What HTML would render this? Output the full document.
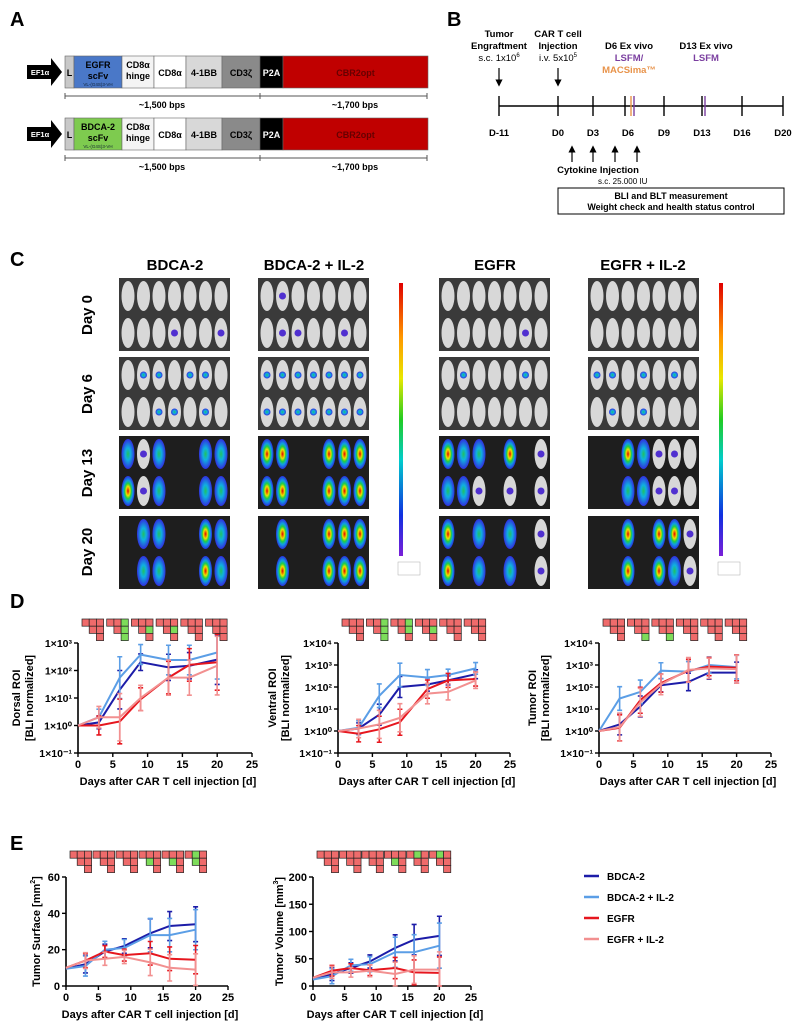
<!DOCTYPE html>
<html><head><meta charset="utf-8"><title>CAR T cell figure</title>
<style>
html,body{margin:0;padding:0;background:#fff;}
svg{display:block;font-family:"Liberation Sans",Arial,sans-serif;}
.b{font-weight:bold;}
</style></head>
<body>
<svg id="fig" width="799" height="1027" viewBox="0 0 799 1027" xmlns="http://www.w3.org/2000/svg">
<defs>
<linearGradient id="cbar" x1="0" y1="0" x2="0" y2="1">
<stop offset="0" stop-color="#e00000"/><stop offset="0.2" stop-color="#ff9900"/><stop offset="0.35" stop-color="#e8e800"/><stop offset="0.5" stop-color="#22cc22"/><stop offset="0.65" stop-color="#00cccc"/><stop offset="0.85" stop-color="#1030e0"/><stop offset="1" stop-color="#7a1fd8"/>
</linearGradient>
<radialGradient id="hot" cx="0.5" cy="0.5" r="0.5"><stop offset="0" stop-color="#e00000"/><stop offset="0.3" stop-color="#f0e000"/><stop offset="0.5" stop-color="#20d040"/><stop offset="0.7" stop-color="#10a0e0"/><stop offset="1" stop-color="#2a30e0"/></radialGradient>
<radialGradient id="warm" cx="0.5" cy="0.5" r="0.5"><stop offset="0" stop-color="#20c060"/><stop offset="0.4" stop-color="#10b0e0"/><stop offset="1" stop-color="#3030e0"/></radialGradient>
<radialGradient id="cold" cx="0.5" cy="0.5" r="0.5"><stop offset="0" stop-color="#4a3ae8"/><stop offset="1" stop-color="#8a40e0"/></radialGradient>
<marker id="arr" markerWidth="6" markerHeight="6" refX="3" refY="3" orient="auto"><path d="M0,0 L6,3 L0,6 z" fill="#000"/></marker>
</defs>

<!-- PANEL A -->
<g>
<text x="10" y="26" font-size="20" class="b">A</text>
<g id="constructs"></g>
</g>

<!-- PANEL B -->
<g>
<text x="447" y="26" font-size="20" class="b">B</text>
<g font-size="9.5" text-anchor="middle">
<text x="499" y="37" class="b">Tumor</text>
<text x="499" y="49" class="b">Engraftment</text>
<text x="499" y="61">s.c. 1x10<tspan font-size="6" dy="-4">6</tspan></text>
<text x="558" y="37" class="b">CAR T cell</text>
<text x="558" y="49" class="b">Injection</text>
<text x="558" y="61">i.v. 5x10<tspan font-size="6" dy="-4">5</tspan></text>
<text x="629" y="49" class="b">D6 Ex vivo</text>
<text x="629" y="61" class="b" fill="#7b3fa0">LSFM/</text>
<text x="629" y="73" class="b" fill="#e8934a">MACSima™</text>
<text x="706" y="49" class="b">D13 Ex vivo</text>
<text x="706" y="61" class="b" fill="#7b3fa0">LSFM</text>
</g>
<g stroke="#000" stroke-width="1.2">
<line x1="499" y1="68" x2="499" y2="83" marker-end="url(#arr)"/>
<line x1="558" y1="68" x2="558" y2="83" marker-end="url(#arr)"/>
<line x1="499" y1="106" x2="783" y2="106" stroke-width="1.5"/>
</g>
<g id="timeline"></g>
<text x="598" y="173" font-size="9.5" class="b" text-anchor="middle">Cytokine Injection</text>
<text x="598" y="184" font-size="8">s.c. 25.000 IU</text>
<rect x="558" y="188" width="226" height="26" fill="#fff" stroke="#000" stroke-width="1"/>
<text x="671" y="199" font-size="9" class="b" text-anchor="middle">BLI and BLT measurement</text>
<text x="671" y="210" font-size="9" class="b" text-anchor="middle">Weight check and health status control</text>
</g>

<!-- PANEL C -->
<g>
<text x="10" y="266" font-size="20" class="b">C</text>
<g font-size="15" class="b" text-anchor="middle">
<text x="175" y="270">BDCA-2</text>
<text x="314" y="270">BDCA-2 + IL-2</text>
<text x="495" y="270">EGFR</text>
<text x="643" y="270">EGFR + IL-2</text>
</g>
<g font-size="15" class="b" text-anchor="middle">
<text transform="translate(92,315) rotate(-90)">Day 0</text>
<text transform="translate(92,394) rotate(-90)">Day 6</text>
<text transform="translate(92,473) rotate(-90)">Day 13</text>
<text transform="translate(92,552) rotate(-90)">Day 20</text>
</g>
<g id="mice"></g>
<rect x="399" y="283" width="4" height="273" fill="url(#cbar)"/>
<rect x="719" y="283" width="4" height="273" fill="url(#cbar)"/>
<rect x="398" y="562" width="22" height="13" fill="#fff" stroke="#aaa" stroke-width="0.5"/>
<rect x="718" y="562" width="22" height="13" fill="#fff" stroke="#aaa" stroke-width="0.5"/>
</g>

<!-- PANEL D / E -->
<text x="10" y="608" font-size="20" class="b">D</text>
<text x="10" y="850" font-size="20" class="b">E</text>
<g id="charts"></g>

<g id="legend"></g>
</svg>

<script>
// ===== Chart data =====
const days = [0, 3, 6, 9, 13, 16, 20];
const seriesNames = ["BDCA-2", "BDCA-2 + IL-2", "EGFR", "EGFR + IL-2"];
const seriesColors = ["#1c1ca8", "#5b9ee6", "#e6161e", "#f29090"];

const dorsalBDCA2 = [1, 1.3, 20, 200, 130, 150, 250];
const dorsalBDCA2IL2 = [1, 2, 55, 380, 240, 240, 450];
const dorsalEGFR = [1, 1, 1.4, 9, 55, 160, 200];
const dorsalEGFRIL2 = [1, 2, 2, 10, 55, 55, 150];
const dorsalErr = [1, 1.7, 5, 2, 3, 3, 8];

const ventralBDCA2 = [1, 1.3, 5.5, 100, 130, 200, 380];
const ventralBDCA2IL2 = [1, 1.4, 40, 350, 270, 350, 700];
const ventralEGFR = [1, 0.75, 1.2, 2.5, 80, 200, 230];
const ventralEGFRIL2 = [1, 1.3, 2, 4, 50, 60, 200];
const ventralErr = [1, 1.8, 3, 3, 2, 1.6, 1.6];

const tumorBDCA2 = [1, 2, 13, 120, 170, 450, 450];
const tumorBDCA2IL2 = [1, 30, 60, 550, 500, 1000, 800];
const tumorEGFR = [1, 1.4, 25, 150, 550, 850, 750];
const tumorEGFRIL2 = [1, 1.5, 20, 130, 600, 700, 650];
const tumorErr = [1, 3, 3, 2, 2.5, 2, 3];

const surfBDCA2 = [9.5, 12, 19, 22, 29, 33, 34];
const surfBDCA2IL2 = [9.5, 11, 20, 21, 28, 28, 31];
const surfEGFR = [10, 14, 19, 17, 18, 15, 14.5];
const surfEGFRIL2 = [10, 14, 15, 16, 13, 10, 9];
const surfErr = [4, 6, 5, 5, 10, 10, 12];

const volBDCA2 = [13, 22, 33, 45, 70, 85, 92];
const volBDCA2IL2 = [12, 18, 38, 40, 62, 62, 74];
const volEGFR = [15, 28, 33, 29, 33, 25, 24];
const volEGFRIL2 = [15, 25, 25, 28, 22, 30, 30];
const volErr = [8, 15, 12, 15, 30, 35, 45];

const logTicks = ["1×10⁻¹", "1×10⁰", "1×10¹", "1×10²", "1×10³", "1×10⁴"];
const xTicks = [0, 5, 10, 15, 20, 25];
const surfTicks = [0, 20, 40, 60];
const volTicks = [0, 50, 100, 150, 200];

const dorsalGreen = [[], [2, 4, 5], [4], [4], [], []];
const ventralGreen = [[], [2, 4, 5], [2, 4], [4], [], []];
const tumorGreen = [[], [5], [5], [], [], []];
const surfGreen = [[], [], [], [3], [3], [1, 3]];
const volGreen = [[], [], [], [3], [1], [1]];

const NS = "http://www.w3.org/2000/svg";
function mk(tag, attrs, parent) {
  const e = document.createElementNS(NS, tag);
  for (const k in attrs) e.setAttribute(k, attrs[k]);
  parent.appendChild(e);
  return e;
}
function txt(s, attrs, parent) { const t = mk("text", attrs, parent); t.textContent = s; return t; }

const chartsG = document.getElementById("charts");

function drawChart(cfg) {
  const g = mk("g", {}, chartsG);
  
  
  const {x0, x1, yTop, yBot, log} = cfg;
  const xs = d => x0 + (x1 - x0) * d / 25;
  let ys;
  if (log) {
    const lmin = -1, lmax = cfg.logMax;
    ys = v => yBot - (yBot - yTop) * (Math.log10(Math.max(v, 0.05)) - lmin) / (lmax - lmin);
  } else {
    ys = v => yBot - (yBot - yTop) * v / cfg.yMax;
  }
  const ax = mk("path", {d: `M${x0},${yTop} L${x0},${yBot} L${x1},${yBot}`, fill: "none", stroke: "#000", "stroke-width": 1.6}, g);
  
  
  xTicks.forEach(t => {
    mk("line", {x1: xs(t), x2: xs(t), y1: yBot, y2: yBot + 4, stroke: "#000", "stroke-width": 1.4}, g);
    const l = txt(String(t), {x: xs(t), y: yBot + 15, "font-size": 11, "font-weight": "bold", "text-anchor": "middle"}, g);
    
    
  });
  if (log) {
    for (let i = 0; i <= cfg.logMax + 1; i++) {
      const v = Math.pow(10, i - 1), y = ys(v);
      mk("line", {x1: x0 - 4, x2: x0, y1: y, y2: y, stroke: "#000", "stroke-width": 1.4}, g);
      const l = txt(logTicks[i], {x: x0 - 6, y: y + 4, "font-size": 10.5, "font-weight": "bold", "text-anchor": "end"}, g);
      
      
    }
  } else {
    cfg.ticks.forEach(t => {
      const y = ys(t);
      mk("line", {x1: x0 - 4, x2: x0, y1: y, y2: y, stroke: "#000", "stroke-width": 1.4}, g);
      const l = txt(String(t), {x: x0 - 6, y: y + 4, "font-size": 11, "font-weight": "bold", "text-anchor": "end"}, g);
      
      
    });
  }
  const xt = txt("Days after CAR T cell injection [d]", {x: (x0 + x1) / 2 + 3, y: yBot + 32, "font-size": 11, "font-weight": "bold", "text-anchor": "middle"}, g);
  
  
  const yt = mk("text", {transform: `translate(${cfg.ytX},${(yTop + yBot) / 2}) rotate(-90)`, "font-size": 11, "font-weight": "bold", "text-anchor": "middle"}, g);
  
  
  cfg.yTitle.forEach((line, i) => {
    const ts = mk("tspan", {x: 0, dy: i === 0 ? (cfg.yTitle.length > 1 ? -2 : 4) : 13}, yt);
    ts.innerHTML = line;
  });
  cfg.series.forEach((vals, si) => {
    const sg = mk("g", {}, g);
    
    
    const col = seriesColors[si];
    vals.forEach((v, i) => {
      const e = cfg.err[i] * (1 + si * 0.15);
      let lo, hi;
      if (log) { lo = v / e; hi = v * e; } else { lo = Math.max(0, v - e * (si < 2 ? 0.8 : 0.5)); hi = v + e * (si < 2 ? 0.8 : 0.5); }
      if (i === 0) return;
      const x = xs(days[i]);
      const eb = mk("path", {d: `M${x},${ys(lo)} L${x},${ys(hi)} M${x - 2.5},${ys(hi)} L${x + 2.5},${ys(hi)} M${x - 2.5},${ys(lo)} L${x + 2.5},${ys(lo)}`, stroke: col, "stroke-width": 1.6, fill: "none"}, sg);
      
      
    });
    const pts = vals.map((v, i) => `${xs(days[i]).toFixed(1)},${ys(v).toFixed(1)}`).join(" ");
    const pl = mk("polyline", {points: pts, fill: "none", stroke: col, "stroke-width": 2}, sg);
    
    
  });
  const cs = 7.2, sp = (x1 - x0) * 0.142, gy = yTop - cfg.glyphOff;
  cfg.green.forEach((gr, k) => {
    const gx = x0 + 4 + k * sp;
    const hg = mk("g", {}, g);
    
    
    const cells = [[0, 0], [0, 1], [0, 2], [1, 1], [1, 2], [2, 2]];
    cells.forEach((rc, ci) => {
      mk("rect", {x: gx + rc[1] * cs, y: gy + rc[0] * cs, width: cs, height: cs, fill: gr.includes(ci) ? "#7ddc5a" : "#ef6b6b", stroke: "#222", "stroke-width": 0.7}, hg);
    });
  });
}

drawChart({name: "dorsal-roi-chart", x0: 78, x1: 252, yTop: 643, yBot: 753, log: true, logMax: 3,
  series: [dorsalBDCA2, dorsalBDCA2IL2, dorsalEGFR, dorsalEGFRIL2], err: dorsalErr, ytX: 22,
  yTitle: ["Dorsal ROI", "[BLI normalized]"], green: dorsalGreen, glyphOff: 24});
drawChart({name: "ventral-roi-chart", x0: 338, x1: 510, yTop: 643, yBot: 753, log: true, logMax: 4,
  series: [ventralBDCA2, ventralBDCA2IL2, ventralEGFR, ventralEGFRIL2], err: ventralErr, ytX: 278,
  yTitle: ["Ventral ROI", "[BLI normalized]"], green: ventralGreen, glyphOff: 24});
drawChart({name: "tumor-roi-chart", x0: 599, x1: 771, yTop: 643, yBot: 753, log: true, logMax: 4,
  series: [tumorBDCA2, tumorBDCA2IL2, tumorEGFR, tumorEGFRIL2], err: tumorErr, ytX: 538,
  yTitle: ["Tumor ROI", "[BLI normalized]"], green: tumorGreen, glyphOff: 24});
drawChart({name: "tumor-surface-chart", x0: 66, x1: 228, yTop: 877, yBot: 986, log: false, yMax: 60, ticks: surfTicks,
  series: [surfBDCA2, surfBDCA2IL2, surfEGFR, surfEGFRIL2], err: surfErr, ytX: 36,
  yTitle: ["Tumor Surface [mm<tspan font-size='7' dy='-5'>2</tspan><tspan dy='5'>]</tspan>"], green: surfGreen, glyphOff: 26});
drawChart({name: "tumor-volume-chart", x0: 313, x1: 471, yTop: 877, yBot: 986, log: false, yMax: 200, ticks: volTicks,
  series: [volBDCA2, volBDCA2IL2, volEGFR, volEGFRIL2], err: volErr, ytX: 279,
  yTitle: ["Tumor Volume [mm<tspan font-size='7' dy='-5'>3</tspan><tspan dy='5'>]</tspan>"], green: volGreen, glyphOff: 26});

const lg = document.getElementById("legend");
seriesNames.forEach((n, i) => {
  const y = 876 + i * 21;
  const e = mk("g", {}, lg);
  
  
  mk("line", {x1: 584, x2: 599, y1: y, y2: y, stroke: seriesColors[i], "stroke-width": 2.5}, e);
  txt(n, {x: 607, y: y + 4, "font-size": 10, "font-weight": "bold"}, e);
});

const cg = document.getElementById("constructs");
function construct(y, scfv, col) {
  const g = mk("g", {}, cg);
  
  
  mk("path", {d: `M27,${y + 9} L51,${y + 9} L51,${y + 2} L62,${y + 16} L51,${y + 30} L51,${y + 23} L27,${y + 23} z`, fill: "#000"}, g);
  txt("EF1α", {x: 40, y: y + 19, "font-size": 7.5, fill: "#fff", "font-weight": "bold", "text-anchor": "middle"}, g);
  const segs = [[65, 74, "#c8c8c8", ["L"], "#000"], [74, 122, col, [scfv, "scFv"], "#000"], [122, 154, "#f4f4f4", ["CD8α", "hinge"], "#000"],
    [154, 186, "#fff", ["CD8α"], "#000"], [186, 222, "#d8d8d8", ["4-1BB"], "#000"], [222, 260, "#8a8a8a", ["CD3ζ"], "#000"],
    [260, 283, "#000", ["P2A"], "#fff"], [283, 428, "#c00000", ["CBR2opt"], "#600"]];
  segs.forEach(s => {
    mk("rect", {x: s[0], y: y, width: s[1] - s[0], height: 32, fill: s[2], stroke: "#666", "stroke-width": 0.6}, g);
    const cx = (s[0] + s[1]) / 2;
    if (s[3].length === 1) txt(s[3][0], {x: cx, y: y + 20, "font-size": 9, "font-weight": "bold", fill: s[4], "text-anchor": "middle"}, g);
    else {
      txt(s[3][0], {x: cx, y: y + 12, "font-size": 9, "font-weight": "bold", fill: s[4], "text-anchor": "middle"}, g);
      txt(s[3][1], {x: cx, y: y + 23, "font-size": 9, "font-weight": "bold", fill: s[4], "text-anchor": "middle"}, g);
    }
  });
  txt("VL-(G4S)3-VH", {x: 98, y: y + 30, "font-size": 4.5, fill: "#123", "text-anchor": "middle"}, g);
  const sy = y + 40;
  mk("path", {d: `M65,${sy} L427,${sy} M65,${sy - 3} L65,${sy + 3} M260,${sy - 3} L260,${sy + 3} M427,${sy - 3} L427,${sy + 3}`, stroke: "#555", "stroke-width": 1}, g);
  txt("~1,500 bps", {x: 162, y: sy + 12, "font-size": 9, "font-weight": "bold", "text-anchor": "middle"}, g);
  txt("~1,700 bps", {x: 355, y: sy + 12, "font-size": 9, "font-weight": "bold", "text-anchor": "middle"}, g);
}
construct(56, "EGFR", "#4a78c8");
construct(118, "BDCA-2", "#7ecb4f");

const tl = document.getElementById("timeline");
const tlDays = ["D-11", "D0", "D3", "D6", "D9", "D13", "D16", "D20"];
const tlX = [499, 558, 593, 628, 664, 702, 742, 783];
tlDays.forEach((d, i) => {
  const t = mk("line", {x1: tlX[i] - (i === 3 ? 3 : 0), x2: tlX[i] - (i === 3 ? 3 : 0), y1: 96, y2: 116, stroke: "#000", "stroke-width": 1.4}, tl);
  
  
  txt(d, {x: tlX[i], y: 136, "font-size": 9.5, "font-weight": "bold", "text-anchor": "middle"}, tl);
});
mk("line", {x1: 631, x2: 631, y1: 96, y2: 116, stroke: "#e8934a", "stroke-width": 1.4}, tl);
mk("line", {x1: 634, x2: 634, y1: 96, y2: 116, stroke: "#7b3fa0", "stroke-width": 1.4}, tl);
mk("line", {x1: 705, x2: 705, y1: 96, y2: 116, stroke: "#7b3fa0", "stroke-width": 1.4}, tl);
[572, 593, 615, 637].forEach(x => mk("line", {x1: x, x2: x, y1: 162, y2: 149, stroke: "#000", "stroke-width": 1.2, "marker-end": "url(#arr)"}, tl));

const mg = document.getElementById("mice");
const blocksX = [119, 258, 439, 588];
const rowsY = [278, 357, 436, 516];
const pattern = [
  [["wwwwwww", "wwwpwwp"], ["wppwppw", "wwppwpw"], ["bpb--bb", "hpb--bb"], ["-bb--hb", "-bb--hb"]],
  [["wpwwwww", "wppwwpw"], ["ppppppp", "ppppppp"], ["hh--hhh", "hh--hhh"], ["-h--hhh", "-h--hhh"]],
  [["wwwwwww", "wwwwwpw"], ["wpwwwpw", "wwwwwww"], ["hbb-h-p", "bbp-p-p"], ["h-b-b-p", "h-b-b-p"]],
  [["wwwwwww", "wwwwwww"], ["ppwpwpw", "wpwpwww"], ["--hbppw", "--bbppw"], ["--h-hhp", "--h-hbp"]]
];
blocksX.forEach((bx, b) => {
  rowsY.forEach((ry, r) => {
    const g = mk("g", {}, mg);
    
    
    const bright = r < 2;
    mk("rect", {x: bx, y: ry, width: 111, height: 73, fill: bright ? "#3a3a3a" : "#1e1e1e"}, g);
    pattern[b][r].forEach((row, sr) => {
      const cy = ry + 18 + sr * 37;
      [...row].forEach((c, k) => {
        const cx = bx + 9 + k * 15.5;
        if (c === "-") return;
        if (c === "w" || c === "p") {
          mk("ellipse", {cx: cx, cy: cy, rx: 6.5, ry: 15, fill: "#d8d8d8"}, g);
          if (c === "p") mk("ellipse", {cx: cx, cy: cy, rx: 3.5, ry: 3.5, fill: r === 1 ? "url(#warm)" : "#5030d0"}, g);
        } else {
          mk("ellipse", {cx: cx, cy: cy, rx: 6.5, ry: 15, fill: c === "h" ? "url(#hot)" : (c === "b" ? "url(#warm)" : "url(#cold)")}, g);
        }
      });
    });
  });
});
</script>
</body></html>
